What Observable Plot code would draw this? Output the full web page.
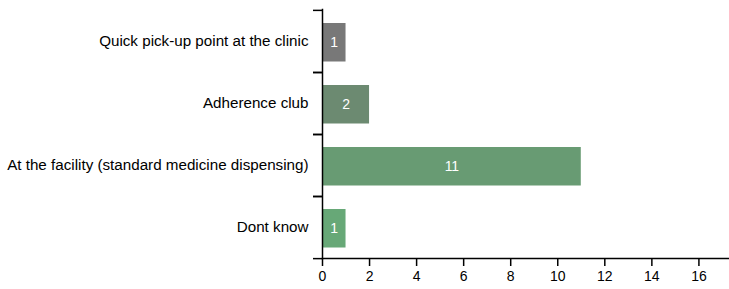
<!DOCTYPE html>
<html>
<head>
<meta charset="utf-8">
<script src="https://cdn.jsdelivr.net/npm/d3@7"></script>
<script src="https://cdn.jsdelivr.net/npm/@observablehq/plot@0.6"></script>
<style>
  html, body { margin: 0; padding: 0; background: #fff; }
  svg { display: block; }
</style>
</head>
<body>
<div id="chart"></div>
<script>
const categories = [
  "Quick pick-up point at the clinic",
  "Adherence club",
  "At the facility (standard medicine dispensing)",
  "Dont know"
];
const counts = [1, 2, 11, 1];
const barColors = ["#787878", "#6c8a71", "#689b73", "#67a877"];
const xTicks = [0, 2, 4, 6, 8, 10, 12, 14, 16];

const data = categories.map((c, i) => ({category: c, count: counts[i], color: barColors[i]}));

const H = 289, MT = 9, MB = 31;
const half = (H - MT - MB) / categories.length / 2;

const chart = Plot.plot({
  width: 729,
  height: H,
  marginLeft: 322,
  marginRight: 0,
  marginTop: MT,
  marginBottom: MB,
  style: {fontFamily: "Liberation Sans, Arial, sans-serif", fontSize: "14px", color: "#000", background: "#fff"},
  x: {domain: [0, 17.3]},
  y: {domain: categories, padding: 0},
  marks: [
    Plot.barX(data, {x: "count", y: "category", fill: "color", insetTop: 13, insetBottom: 10.5}),
    Plot.text(data, {x: d => d.count / 2, y: "category", text: d => String(d.count), fill: "#fff", fontSize: 14, dy: 1.5}),
    Plot.axisX({ticks: xTicks, tickSize: 8, tickPadding: 5, stroke: "#000", strokeWidth: 1.5, fontSize: 14, label: null}),
    Plot.axisY({tickSize: 0, tickPadding: 14, fontSize: 15.2, label: null}),
    Plot.axisY({tickSize: 9, tickFormat: () => "", dy: -half, stroke: "#000", strokeWidth: 1.5, label: null}),
    Plot.axisY({tickSize: 9, tickFormat: () => "", dy: half, stroke: "#000", strokeWidth: 1.5, label: null}),
    Plot.frame({anchor: "left", stroke: "#000", strokeWidth: 1.5}),
    Plot.frame({anchor: "bottom", stroke: "#000", strokeWidth: 1.5})
  ]
});
document.getElementById("chart").appendChild(chart);
</script>
</body>
</html>
